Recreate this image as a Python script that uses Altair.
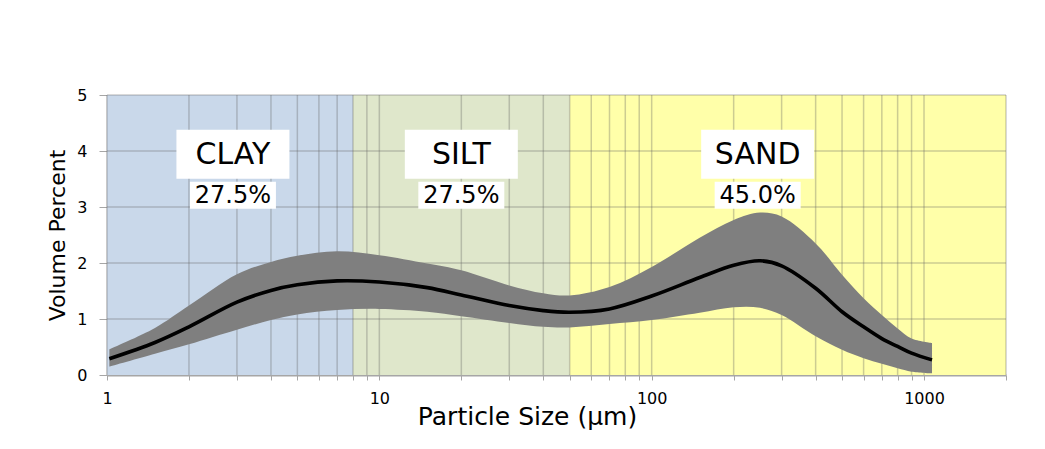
import altair as alt
import pandas as pd

# ---- data -------------------------------------------------------------
size_um = [1.02, 1.5, 2, 3, 4, 5, 7, 10, 15, 20, 30, 40, 50, 70, 100, 150,
           200, 250, 300, 400, 500, 600, 700, 800, 900, 1070]
mean_pct = [0.29, 0.58, 0.86, 1.30, 1.51, 1.61, 1.68, 1.66, 1.56, 1.43, 1.24,
            1.15, 1.12, 1.18, 1.41, 1.74, 1.96, 2.04, 1.95, 1.55, 1.13, 0.86,
            0.65, 0.51, 0.39, 0.27]
upper_pct = [0.46, 0.84, 1.24, 1.80, 2.02, 2.13, 2.21, 2.14, 1.99, 1.87, 1.60,
             1.46, 1.42, 1.57, 1.93, 2.45, 2.77, 2.90, 2.83, 2.35, 1.79, 1.37,
             1.07, 0.83, 0.65, 0.57]
lower_pct = [0.15, 0.38, 0.55, 0.81, 0.98, 1.08, 1.16, 1.18, 1.13, 1.05, 0.93,
             0.86, 0.85, 0.91, 0.98, 1.11, 1.21, 1.20, 1.07, 0.69, 0.45, 0.30,
             0.20, 0.12, 0.06, 0.03]

class_names = ["CLAY", "SILT", "SAND"]
class_start = [1, 8, 50]
class_end = [8, 50, 2000]
class_share = ["27.5%", "27.5%", "45.0%"]
class_label_x = [2.9, 20, 245]
class_colors = ["#c9d8ea", "#dfe7cb", "#ffffa9"]

x_ticks = [1, 2, 3, 4, 5, 6, 7, 8, 9,
           10, 20, 30, 40, 50, 60, 70, 80, 90,
           100, 200, 300, 400, 500, 600, 700, 800, 900, 1000, 2000]
x_labelled = [1, 10, 100, 1000]
y_ticks = [0, 1, 2, 3, 4, 5]

# ---- tables -----------------------------------------------------------
curve = pd.DataFrame({"size": size_um, "mean": mean_pct,
                      "upper": upper_pct, "lower": lower_pct})
classes = pd.DataFrame({"name": class_names, "start": class_start,
                        "end": class_end, "share": class_share,
                        "lx": class_label_x})
vgrid = pd.DataFrame({"v": x_ticks})
hgrid = pd.DataFrame({"v": y_ticks[1:]})

FONT = "DejaVu Sans"
W, H = 899, 280

xscale = alt.Scale(type="log", domain=[1, 2000], nice=False)
yscale = alt.Scale(domain=[0, 5], nice=False)

label_expr = "indexof([" + ",".join(str(v) for v in x_labelled) + "], datum.value) >= 0 ? datum.value : ''"

xaxis = alt.Axis(values=x_ticks, labelExpr=label_expr, grid=False,
                 title="Particle Size (µm)", titleFont=FONT, titleFontSize=25,
                 titleFontWeight="normal", titleColor="#000000",
                 titleX=420, titleY=49, titleBaseline="alphabetic",
                 labelFont=FONT, labelFontSize=16, labelColor="#000000",
                 labelPadding=10, tickSize=5, tickColor="#a6a6a6",
                 domainColor="#a6a6a6", domainWidth=2, labelFlush=False,
                 labelOverlap=False)
yaxis = alt.Axis(values=y_ticks, grid=False, title="Volume Percent",
                 titleFont=FONT, titleFontSize=22, titleFontWeight="normal",
                 titleColor="#000000", titleX=-50, titleY=H / 2,
                 titleBaseline="middle", titleAlign="center",
                 labelFont=FONT, labelFontSize=16, labelColor="#000000",
                 labelPadding=12, tickSize=8, tickColor="#a6a6a6",
                 domainColor="#a6a6a6", domainWidth=1.5)

bg = alt.Chart(classes).mark_rect().encode(
    x=alt.X("start:Q", scale=xscale, axis=xaxis),
    x2="end:Q",
    y=alt.Y(datum=0, scale=yscale, axis=yaxis, type="quantitative"),
    y2=alt.datum(5),
    color=alt.Color("name:N", scale=alt.Scale(domain=class_names, range=class_colors), legend=None),
)

vrules = alt.Chart(vgrid).mark_rule(color="#5f6060", opacity=0.32, strokeWidth=1.5).encode(
    x=alt.X("v:Q", scale=xscale),
    y=alt.datum(0), y2=alt.datum(5),
)
hrules = alt.Chart(hgrid).mark_rule(color="#5f6060", opacity=0.32, strokeWidth=1.5).encode(
    y=alt.Y("v:Q", scale=yscale),
    x=alt.datum(1), x2=alt.datum(2000),
)

band = alt.Chart(curve).mark_area(color="#7f7f7f", opacity=1, interpolate="catmull-rom").encode(
    x=alt.X("size:Q", scale=xscale),
    y=alt.Y("lower:Q", scale=yscale),
    y2="upper:Q",
)
line = alt.Chart(curve).mark_line(color="#000000", strokeWidth=3.6, interpolate="catmull-rom").encode(
    x=alt.X("size:Q", scale=xscale),
    y=alt.Y("mean:Q", scale=yscale),
)

name_box = alt.Chart(classes).mark_rect(color="white", width=113, height=49).encode(
    x=alt.X("lx:Q", scale=xscale), y=alt.Y(datum=3.94, scale=yscale, type="quantitative"))
share_box = alt.Chart(classes).mark_rect(color="white", width=86, height=27).encode(
    x=alt.X("lx:Q", scale=xscale), y=alt.Y(datum=3.21, scale=yscale, type="quantitative"))
name_txt = alt.Chart(classes).mark_text(font=FONT, fontSize=30, color="#000000",
                                        baseline="middle", align="center", dy=1).encode(
    x=alt.X("lx:Q", scale=xscale), y=alt.Y(datum=3.94, scale=yscale, type="quantitative"), text="name:N")
share_txt = alt.Chart(classes).mark_text(font=FONT, fontSize=24, color="#000000",
                                         baseline="middle", align="center", dy=1).encode(
    x=alt.X("lx:Q", scale=xscale), y=alt.Y(datum=3.21, scale=yscale, type="quantitative"), text="share:N")

chart = alt.layer(bg, vrules, hrules, band, line, name_box, share_box, name_txt, share_txt).properties(
    width=W, height=H,
    autosize=alt.AutoSizeParams(type="none"),
    padding={"left": 99, "top": 87, "right": 31, "bottom": 66},
    background="white",
).configure_view(stroke=None)

chart.save("out.html", embed_options={"renderer": "svg", "actions": False})
